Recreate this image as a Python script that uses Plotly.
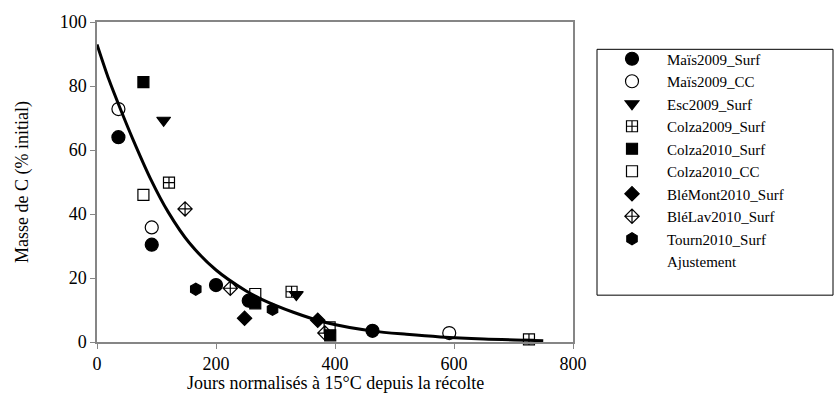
import plotly.graph_objects as go

# ---- data ----
mais09_surf_x = [36, 92, 200, 255, 463]
mais09_surf_y = [64, 30.4, 17.8, 12.9, 3.5]
mais09_cc_x = [36, 92, 592]
mais09_cc_y = [72.8, 35.8, 2.8]
esc09_x = [112, 335]
esc09_y = [69.3, 14.8]
colza09_x = [121, 327, 726]
colza09_y = [49.8, 15.7, 0.8]
colza10_surf_x = [78, 266, 392]
colza10_surf_y = [81.2, 12.1, 2.1]
colza10_cc_x = [78, 266, 391]
colza10_cc_y = [46, 15.0, 4.6]
blemont_x = [248, 371]
blemont_y = [7.4, 6.8]
blelav_x = [148, 224, 383]
blelav_y = [41.6, 16.8, 2.8]
tourn_x = [166, 295]
tourn_y = [16.5, 10.2]

# fitted curve ("Ajustement")
fit_x = [0, 20, 40, 60, 90, 120, 155, 200, 250, 275, 330, 386, 464, 520, 577, 650, 750]
fit_y = [93, 82, 72.5, 63.5, 51, 40.5, 31, 22.5, 16, 13.5, 9.3, 6, 3.4, 2.4, 1.6, 0.95, 0.4]

x_ticks = [0, 200, 400, 600, 800]
y_ticks = [0, 20, 40, 60, 80, 100]

FONT = "Liberation Serif, Times New Roman, serif"

series = [
    ("Maïs2009_Surf", mais09_surf_x, mais09_surf_y, "circle", 13),
    ("Maïs2009_CC", mais09_cc_x, mais09_cc_y, "circle-open", 13),
    ("Esc2009_Surf", esc09_x, esc09_y, "triangle-down", 12),
    ("Colza2009_Surf", colza09_x, colza09_y, "square-cross-open", 11),
    ("Colza2010_Surf", colza10_surf_x, colza10_surf_y, "square", 11),
    ("Colza2010_CC", colza10_cc_x, colza10_cc_y, "square-open", 11),
    ("BléMont2010_Surf", blemont_x, blemont_y, "diamond", 11),
    ("BléLav2010_Surf", blelav_x, blelav_y, "diamond-cross-open", 11),
    ("Tourn2010_Surf", tourn_x, tourn_y, "hexagon", 12),
]

fig = go.Figure()

fig.add_trace(go.Scatter(
    x=fit_x, y=fit_y, mode="lines",
    line=dict(color="black", width=3, shape="spline", smoothing=0.8),
    showlegend=False, hoverinfo="skip", cliponaxis=False,
))

for name, xs, ys, sym, size in series:
    fig.add_trace(go.Scatter(
        x=xs, y=ys, mode="markers", name=name, cliponaxis=False,
        marker=dict(symbol=sym, size=size, color="black",
                    line=dict(color="black", width=1.2)),
    ))

# legend entry for the fit (no symbol shown in the reference)
fig.add_trace(go.Scatter(
    x=[None], y=[None], mode="markers", name="Ajustement",
    marker=dict(size=1, color="rgba(0,0,0,0)"),
))

# plot area in pixels: x 97..573, y 14..342 ; legend frame 597..833 x 42..294
PW, PH = 476.0, 328.0
box_x0 = (597 - 97) / PW
box_x1 = (833 - 97) / PW
box_y0 = (342 - 294) / PH
box_y1 = (342 - 42) / PH

fig.update_layout(
    width=836, height=418,
    margin=dict(l=97, r=263, t=14, b=76),
    paper_bgcolor="white", plot_bgcolor="white",
    font=dict(family=FONT, size=17, color="black"),
    showlegend=True,
    legend=dict(
        x=box_x0, y=(342 - 35) / PH, xanchor="left", yanchor="top",
        borderwidth=0, bgcolor="rgba(0,0,0,0)",
        font=dict(family=FONT, size=15, color="black"),
        tracegroupgap=0, indentation=0, itemwidth=60,
    ),
    shapes=[dict(type="rect", xref="paper", yref="paper",
                 x0=box_x0, x1=box_x1, y0=box_y0, y1=box_y1,
                 line=dict(color="black", width=1), fillcolor="rgba(0,0,0,0)",
                 layer="below")],
    xaxis=dict(
        range=[0, 800], tickvals=x_ticks, showgrid=False, zeroline=False,
        showline=True, linecolor="#868686", linewidth=1.5, mirror=True,
        ticks="outside", ticklen=5, tickcolor="#868686",
        tickfont=dict(family=FONT, size=18),
    ),
    yaxis=dict(
        range=[0, 100], tickvals=y_ticks, showgrid=False, zeroline=False,
        showline=True, linecolor="#868686", linewidth=1.5, mirror=True,
        ticks="outside", ticklen=5, tickcolor="#868686",
        tickfont=dict(family=FONT, size=18),
    ),
    annotations=[
        dict(text="Jours normalisés à 15°C depuis la récolte", x=0.5, y=0,
             xref="paper", yref="paper", xanchor="center", yanchor="middle",
             yshift=-41, showarrow=False, font=dict(family=FONT, size=18)),
        dict(text="Masse de C (% initial)", x=0, y=0.5,
             xref="paper", yref="paper", xanchor="center", yanchor="middle",
             xshift=-75, textangle=-90, showarrow=False, font=dict(family=FONT, size=18)),
    ],
)

fig.write_html("out.html")
